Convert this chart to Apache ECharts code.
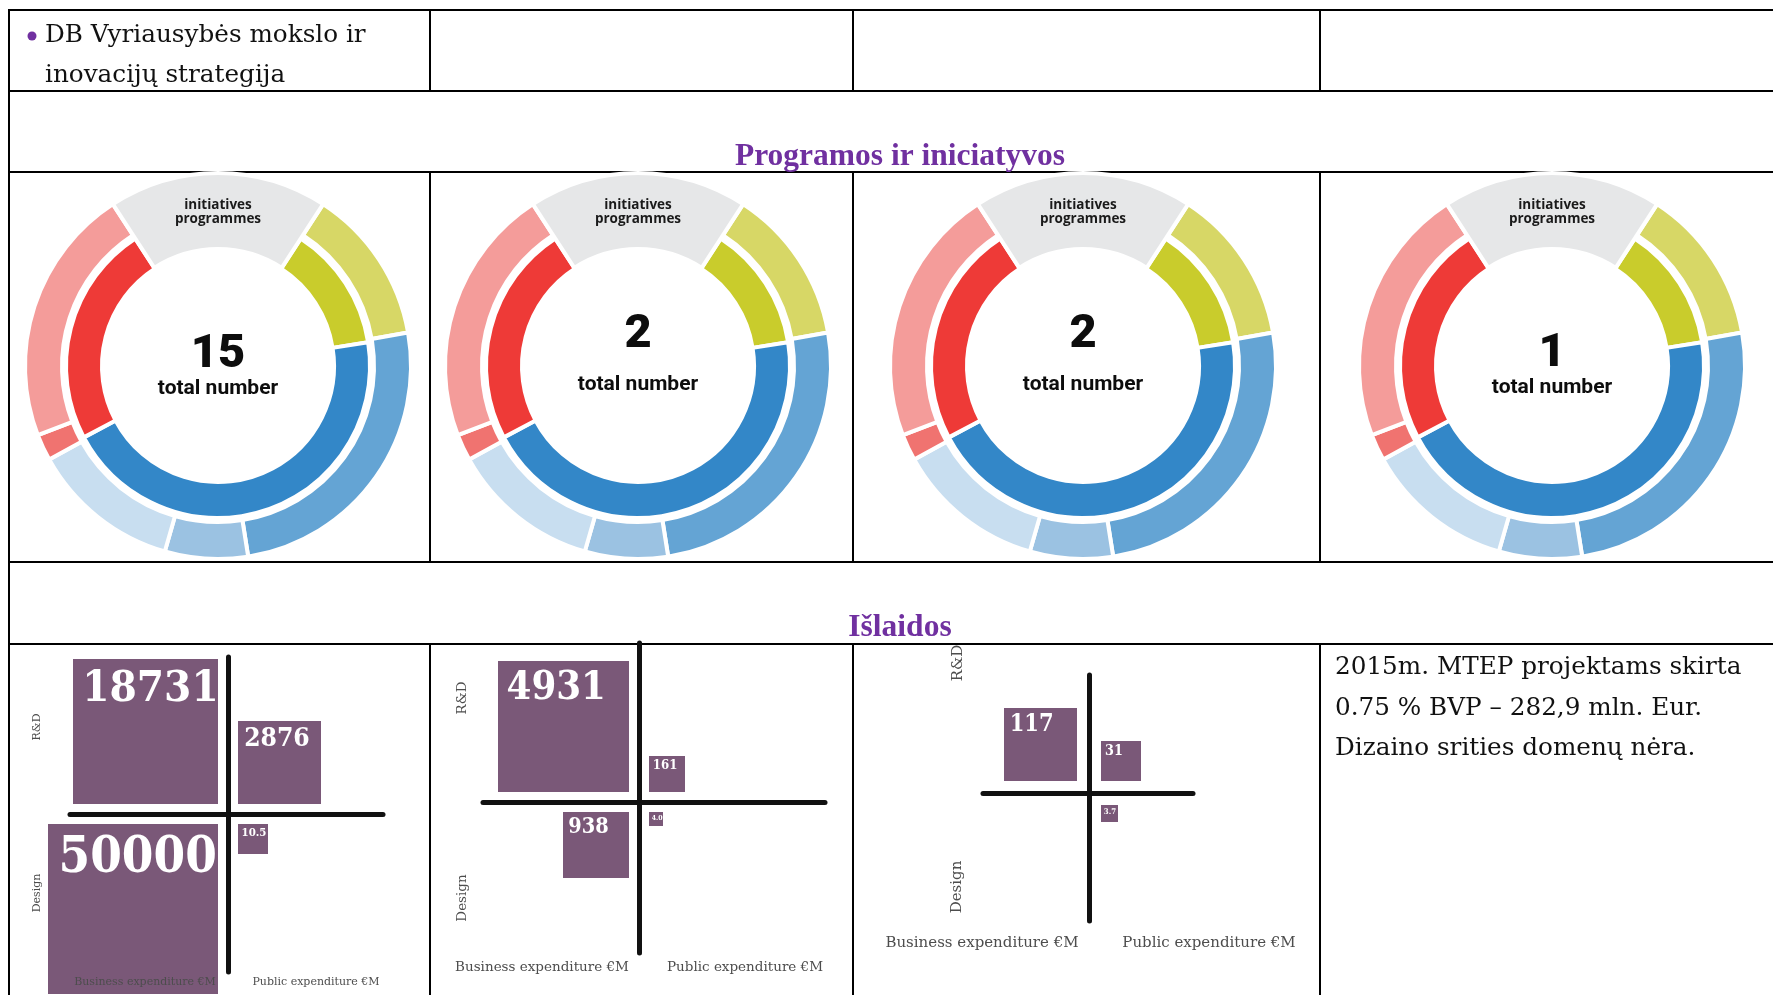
<!DOCTYPE html>
<html>
<head>
<meta charset="utf-8">
<script src="https://cdn.jsdelivr.net/npm/echarts@6/dist/echarts.min.js"></script>
<style>
  html, body { margin: 0; background: #fff; }
  #main { width: 1773px; height: 995px; }
</style>
</head>
<body>
<div id="main"></div>
<script>
// ---- donut data (shares in degrees, clockwise from the grey cap) ----
const donutTotals = ['15', '2', '2', '1'];
const capShare = 66;
const innerSegs = ['green', 'blue', 'red'];
const innerShares = [48, 161, 85];
const outerSegs = ['green light', 'blue mid', 'blue light', 'blue pale', 'red small', 'red light'];
const outerShares = [47, 91, 25, 45, 8, 78];

// ---- expenditure quadrants (€M) ----
const quadX = ['business', 'public', 'business', 'public'];
const quadY = ['rd', 'rd', 'design', 'design'];
const spend1 = [18731, 2876, 50000, 10.5];
const edge1 = [145, 83, 170, 30];      // square edge on the panel's own axis
const spend2 = [4931, 161, 938, 4.0];
const edge2 = [131, 36, 66, 14];
const spend3 = [117, 31, null, 3.7];   // no business design figure
const edge3 = [73, 40, null, 17];

const segColor = {
  'cap': '#e6e7e8',
  'green': '#c9cc2c', 'blue': '#3387c8', 'red': '#ee3a37',
  'green light': '#d7d766', 'blue mid': '#64a4d4', 'blue light': '#9bc2e2',
  'blue pale': '#c8def0', 'red small': '#f07370', 'red light': '#f49c9a'
};
const SQUARE = '#7a5878';
const PURPLE = '#7030a0';
const SERIF = "'DejaVu Serif', serif";
const BODY = "'DejaVu Serif', serif";
const TITLE = "'Liberation Serif', serif";

const chart = echarts.init(document.getElementById('main'), null, { renderer: 'canvas' });

// donut layout
const donutX = [218, 638, 1083, 1552];
const donutY = 366;
const numY = [355, 335, 335, 354];
const lblY = [389, 385, 385, 388];

function hole(v) {
  return { value: v, itemStyle: { color: 'transparent', borderWidth: 0 } };
}
function seg(name, v) {
  return { name: name, value: v, itemStyle: { color: segColor[name], borderColor: '#fff', borderWidth: 4 } };
}

function donutSeries(i) {
  const base = {
    type: 'pie', center: [donutX[i], donutY], startAngle: 123, clockwise: true,
    silent: true, animation: false, avoidLabelOverlap: false,
    label: { show: false }, labelLine: { show: false }, emphasis: { disabled: true }
  };
  return [
    Object.assign({}, base, {
      radius: [116, 152],
      data: [hole(capShare)].concat(innerSegs.map((n, k) => seg(n, innerShares[k])))
    }),
    Object.assign({}, base, {
      radius: [156, 193],
      data: [hole(capShare)].concat(outerSegs.map((n, k) => seg(n, outerShares[k])))
    }),
    Object.assign({}, base, {
      radius: [117, 193],
      data: [seg('cap', capShare), hole(360 - capShare)]
    })
  ];
}

// quadrant panels
const panels = [
  { spend: spend1, edge: edge1, gap: 10, grid: { left: 70, top: 657, width: 313, height: 315 }, x: [-158, 155], y: [-158, 157] },
  { spend: spend2, edge: edge2, gap: 10, grid: { left: 483, top: 643, width: 342, height: 310 }, x: [-156, 186], y: [-151, 159] },
  { spend: spend3, edge: edge3, gap: 12, grid: { left: 983, top: 675, width: 210, height: 246 }, x: [-106, 104], y: [-128, 118] }
];

function fmt(v) {
  return (Number.isInteger(v) && v >= 10) ? String(v) : v.toFixed(1);
}

function quadSeries(p, idx) {
  const data = [];
  p.spend.forEach((v, k) => {
    if (v == null) return;
    data.push([quadX[k] === 'business' ? -1 : 1, quadY[k] === 'rd' ? 1 : -1, p.edge[k], v]);
  });
  return {
    type: 'custom', xAxisIndex: idx, yAxisIndex: idx, clip: false, silent: true, animation: false,
    encode: { x: 0, y: 1 },
    data: data,
    renderItem: function (params, api) {
      const sx = api.value(0), sy = api.value(1), s = api.value(2), v = api.value(3);
      const left = sx < 0 ? -p.gap - s : p.gap;
      const top = sy > 0 ? p.gap + s : -p.gap;
      const a = api.coord([left, top]);
      const b = api.coord([left + s, top - s]);
      const w = b[0] - a[0], h = b[1] - a[1];
      const fs = Math.max(6, w * 0.28 + 3);
      const pad = w * 0.05 + 2;
      return {
        type: 'group',
        children: [
          { type: 'rect', shape: { x: a[0], y: a[1], width: w, height: h }, style: { fill: SQUARE } },
          {
            type: 'text', x: a[0] + pad, y: a[1] + pad * 0.9,
            style: {
              text: fmt(v), fill: '#fff',
              font: 'bold ' + fs.toFixed(1) + "px 'DejaVu Serif Condensed', 'DejaVu Serif', serif",
              textAlign: 'left', textVerticalAlign: 'top', align: 'left', verticalAlign: 'top'
            }
          }
        ]
      };
    }
  };
}

const axisCommon = {
  type: 'value', axisTick: { show: false }, axisLabel: { show: false }, splitLine: { show: false },
  axisLine: { show: true, onZero: true, lineStyle: { color: '#111', width: 5 } }
};

// ---- graphic: table rules and text ----
const g = [];
function hline(y, x1, x2) {
  g.push({ type: 'line', silent: true, shape: { x1: x1, y1: y, x2: x2, y2: y }, style: { stroke: '#000', lineWidth: 2 } });
}
function vline(x, y1, y2) {
  g.push({ type: 'line', silent: true, shape: { x1: x, y1: y1, x2: x, y2: y2 }, style: { stroke: '#000', lineWidth: 2 } });
}
[10, 91, 172, 562, 644].forEach(y => hline(y, 8, 1773));
vline(9, 9, 995);
[430, 853, 1320].forEach(x => {
  vline(x, 10, 91); vline(x, 172, 562); vline(x, 644, 995);
});

function txt(s, x, y, font, fill, align, rot, lh) {
  const style = { text: s, font: font, fill: fill, textAlign: align || 'left', textVerticalAlign: 'middle', align: align || 'left', verticalAlign: 'middle' };
  if (lh) style.lineHeight = lh;
  g.push({ type: 'text', silent: true, x: x, y: y, rotation: rot || 0, z: 100, style: style });
}

g.push({ type: 'circle', silent: true, shape: { cx: 32, cy: 36, r: 4.5 }, style: { fill: PURPLE } });
txt('DB Vyriausybės mokslo ir', 45, 36, '24.7px ' + BODY, '#111');
txt('inovacijų strategija', 45, 76, '24.7px ' + BODY, '#111');
txt('Programos ir iniciatyvos', 900, 157, 'bold 31.5px ' + TITLE, PURPLE, 'center');
txt('Išlaidos', 900, 628, 'bold 31.5px ' + TITLE, PURPLE, 'center');
txt('2015m. MTEP projektams skirta', 1335, 668, '24.7px ' + BODY, '#111');
txt('0.75 % BVP – 282,9 mln. Eur.', 1335, 709, '24.7px ' + BODY, '#111');
txt('Dizaino srities domenų nėra.', 1335, 749, '24.7px ' + BODY, '#111');

donutTotals.forEach((t, i) => {
  txt('initiatives\nprogrammes', donutX[i], 212, "bold 13.5px 'Open Sans', sans-serif", '#1a1a1a', 'center', 0, 14);
  txt(t, donutX[i], numY[i], '900 47px Roboto, sans-serif', '#0d0d0d', 'center');
  txt('total number', donutX[i], lblY[i], 'bold 21px Roboto, sans-serif', '#0d0d0d', 'center');
});

const panelText = [
  { fs: 11, rd: [37, 727], de: [37, 893], bu: [145, 982], pu: [316, 982] },
  { fs: 13.5, rd: [462, 698], de: [462, 898], bu: [542, 967], pu: [745, 967] },
  { fs: 15, rd: [958, 663], de: [957, 887], bu: [982, 943], pu: [1209, 943] }
];
panelText.forEach(t => {
  const f = t.fs + 'px ' + SERIF;
  txt('R&D', t.rd[0], t.rd[1], f, '#4d4d4d', 'center', Math.PI / 2);
  txt('Design', t.de[0], t.de[1], f, '#4d4d4d', 'center', Math.PI / 2);
  txt('Business expenditure €M', t.bu[0], t.bu[1], f, '#4d4d4d', 'center');
  txt('Public expenditure €M', t.pu[0], t.pu[1], f, '#4d4d4d', 'center');
});

let series = [];
donutTotals.forEach((t, i) => { series = series.concat(donutSeries(i)); });
panels.forEach((p, i) => series.push(quadSeries(p, i)));

chart.setOption({
  backgroundColor: '#fff',
  animation: false,
  grid: panels.map(p => Object.assign({ containLabel: false }, p.grid)),
  xAxis: panels.map((p, i) => Object.assign({}, axisCommon, { gridIndex: i, min: p.x[0], max: p.x[1] })),
  yAxis: panels.map((p, i) => Object.assign({}, axisCommon, { gridIndex: i, min: p.y[0], max: p.y[1] })),
  series: series,
  graphic: g
});
</script>
</body>
</html>
